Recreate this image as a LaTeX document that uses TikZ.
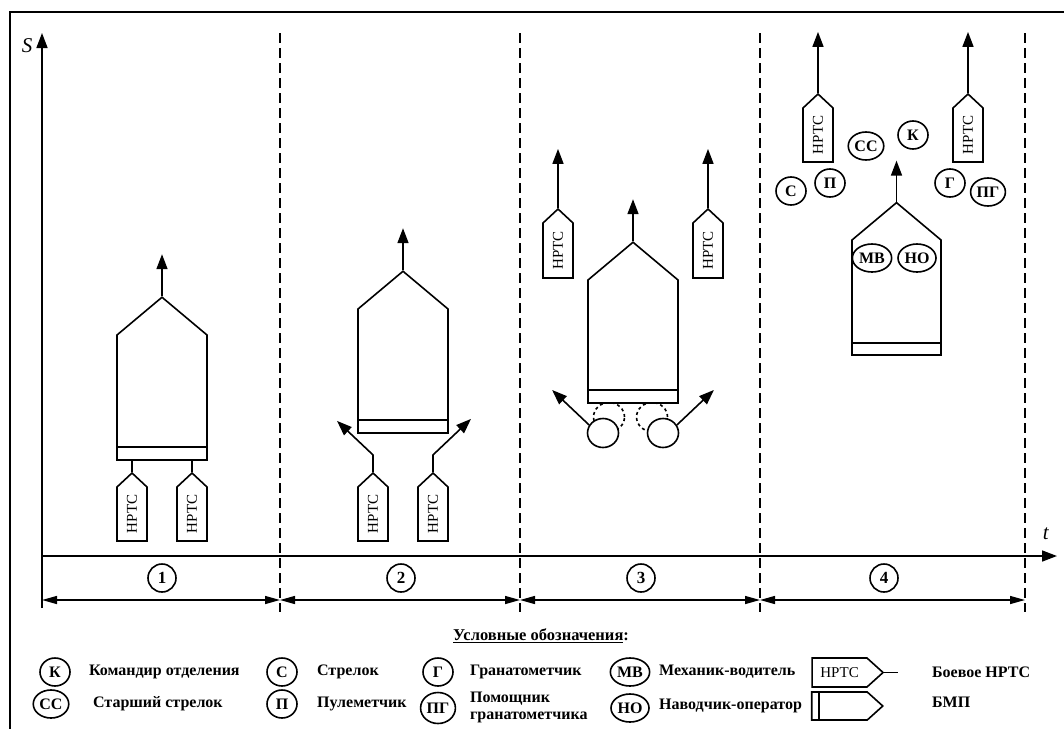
\documentclass[tikz,border=0pt]{standalone}
\usepackage{fontspec}
\setmainfont{Liberation Serif}
\usetikzlibrary{arrows.meta,shapes.symbols,shapes.geometric,positioning}

\begin{document}
\begin{tikzpicture}[x=1pt,y=-1pt,line width=1.6pt,
   >={Triangle[length=15pt,width=11pt]},
   bmp/.style={draw,fill=white,signal,signal to=north,signal pointer angle=100,
     minimum width=90pt,inner sep=0pt},
   nrts/.style={draw,fill=white,signal,signal to=east,signal pointer angle=94,
     rotate=90,minimum width=68pt,minimum height=30pt,inner sep=0pt,
     font=\fontsize{15}{15}\selectfont},
   man/.style={draw,fill=white,ellipse,minimum width=30pt,minimum height=28pt,
     inner sep=1pt,font=\fontsize{16}{16}\selectfont\bfseries},
   num/.style={draw,circle,minimum size=28pt,inner sep=0pt,
     font=\fontsize{17}{17}\selectfont\bfseries},
   border/.style={dash pattern=on 10pt off 5pt,line width=1.2pt},
   dim/.style={{Triangle[length=15pt,width=8pt]}-{Triangle[length=15pt,width=8pt]},line width=1.4pt},
   legend/.style={anchor=west,align=left,font=\fontsize{16}{17}\selectfont\bfseries}]
   \useasboundingbox (0,0) rectangle (1064,728);

   % frame and axes
   \draw[line width=2.8pt] (10,740) |- (1075,12);
   \coordinate (Stop) at (42,33);
   \coordinate (Sbot) at (42,608);
   \coordinate (O) at (42,556);
   \coordinate (Tend) at (1057,556);
   \draw[->] (Sbot) -- (Stop);
   \draw[->] (O) -- (Tend);
   \node (S) at (27,46) {\fontsize{21}{21}\selectfont\textit{S}};
   \node (t) at (1046,534) {\fontsize{21}{21}\selectfont\textit{t}};

   % stage borders
   \draw[border] (280,33) -- (280,612);
   \draw[border] (520,33) -- (520,612);
   \draw[border] (760,33) -- (760,612);
   \draw[border] (1025,33) -- (1025,612);

   % stage widths
   \coordinate (d0) at (42,600);
   \coordinate (d1) at (280,600);
   \coordinate (d2) at (520,600);
   \coordinate (d3) at (760,600);
   \coordinate (d4) at (1025,600);
   \draw[dim] (d0) -- (d1);
   \draw[dim] (d1) -- (d2);
   \draw[dim] (d2) -- (d3);
   \draw[dim] (d3) -- (d4);
   \node[num] (st1) at (162,578) {1};
   \node[num] (st2) at (401,578) {2};
   \node[num] (st3) at (641,578) {3};
   \node[num] (st4) at (884,578) {4};

   % stage 1
   \node[bmp,minimum height=125pt] (bmp1) at (162,397.5) {};
   \draw ([yshift=14pt]bmp1.south west) -- ([yshift=14pt]bmp1.south west -| bmp1.south east);
   \draw[->] (bmp1.north) -- ++(0,-42);
   \node[nrts] (n1a) at (132,514) {НРТС};
   \node[nrts] (n1b) at (192,514) {НРТС};
   \draw (n1a.east) -- (n1a.east |- bmp1.south);
   \draw (n1b.east) -- (n1b.east |- bmp1.south);

   % stage 2
   \node[bmp,minimum height=124pt] (bmp2) at (403,371) {};
   \draw ([yshift=14pt]bmp2.south west) -- ([yshift=14pt]bmp2.south west -| bmp2.south east);
   \draw[->] (bmp2.north) -- ++(0,-42);
   \node[nrts] (n2a) at (373,514) {НРТС};
   \node[nrts] (n2b) at (433,514) {НРТС};
   \draw[->] (n2a.east) -- ++(0,-17) -- ++(-36,-34);
   \draw[->] (n2b.east) -- ++(0,-17) -- ++(38,-36);

   % stage 3
   \node[man,dashed,fill=none,minimum width=31pt,minimum height=29pt] (g3a) at (609,417) {};
   \node[man,dashed,fill=none,minimum width=31pt,minimum height=29pt] (g3b) at (652,417) {};
   \node[bmp,minimum height=123pt] (bmp3) at (633,341.5) {};
   \draw ([yshift=14pt]bmp3.south west) -- ([yshift=14pt]bmp3.south west -| bmp3.south east);
   \draw[->] (bmp3.north) -- ++(0,-42);
   \node[man,minimum width=31pt,minimum height=29pt] (p3a) at (603,433) {};
   \node[man,minimum width=31pt,minimum height=29pt] (p3b) at (663,433) {};
   \draw[->] (p3a.150) -- ++(-37,-35);
   \draw[->] (p3b.30) -- ++(37,-35);
   \node[nrts,minimum width=69pt] (n3a) at (558,250.5) {НРТС};
   \node[nrts,minimum width=69pt] (n3b) at (708,250.5) {НРТС};
   \draw[->] (n3a.east) -- ++(0,-59);
   \draw[->] (n3b.east) -- ++(0,-59);

   % stage 4
   \node[bmp,minimum width=89pt,minimum height=115pt] (bmp4) at (896.5,297.5) {};
   \draw ([yshift=13pt]bmp4.south west) -- ([yshift=13pt]bmp4.south west -| bmp4.south east);
   \draw[->] (bmp4.north) -- ++(0,-41);
   \node[man] (mv) at (872,258) {МВ};
   \node[man] (no) at (917,258) {НО};
   \node[nrts] (n4a) at (818,135) {НРТС};
   \node[nrts] (n4b) at (968,135) {НРТС};
   \draw[->] (n4a.east) -- ++(0,-61);
   \draw[->] (n4b.east) -- ++(0,-61);
   \node[man] (ss) at (866,146) {СС};
   \node[man] (k) at (913,135) {К};
   \node[man] (s) at (791,191) {С};
   \node[man] (p) at (830,183) {П};
   \node[man] (g) at (950,183) {Г};
   \node[man] (pg) at (988,192) {ПГ};

   % legend
   \node[font=\fontsize{16.5}{17}\selectfont\bfseries] (title) at (541,636) {\underline{Условные обозначения}:};
   \node[man] (lk) at (55,672) {К};
   \node[legend] (tk) at (85,672) {Командир отделения};
   \node[man] (lss) at (51,704) {СС};
   \node[legend] (tss) at (89,704) {Старший стрелок};
   \node[man] (ls) at (282,672) {С};
   \node[legend] (ts) at (313,672) {Стрелок};
   \node[man] (lp) at (282,704) {П};
   \node[legend] (tp) at (313,704) {Пулеметчик};
   \node[man,minimum height=31pt] (lpg) at (438,708) {ПГ};
   \node[man] (lg) at (438,672) {Г};
   \node[legend] (tg) at (466,672) {Гранатометчик};
   \node[legend] (tpg) at (466,707) {Помощник\\гранатометчика};
   \node[man] (lmv) at (630,672) {МВ};
   \node[legend] (tmv) at (655,672) {Механик-водитель};
   \node[man] (lno) at (630,708) {НО};
   \node[legend] (tno) at (655,706) {Наводчик-оператор};
   \node[draw,signal,signal to=east,signal pointer angle=84,minimum width=71pt,
     minimum height=29pt,inner sep=0pt,font=\fontsize{15}{15}\selectfont] (lnrts) at (839.5,672.5) {НРТС};
   \draw (lnrts.east) -- ++(14,0);
   \node[legend] (tnrts) at (928,672) {Боевое НРТС};
   \node[draw,signal,signal to=east,signal pointer angle=84,minimum width=71pt,
     minimum height=28pt,inner sep=0pt] (lbmp) at (839.5,706) {};
   \draw ([xshift=8pt]lbmp.north west) -- ([xshift=8pt]lbmp.south west);
   \node[legend] (tbmp) at (928,702) {БМП};
\end{tikzpicture}
\end{document}
